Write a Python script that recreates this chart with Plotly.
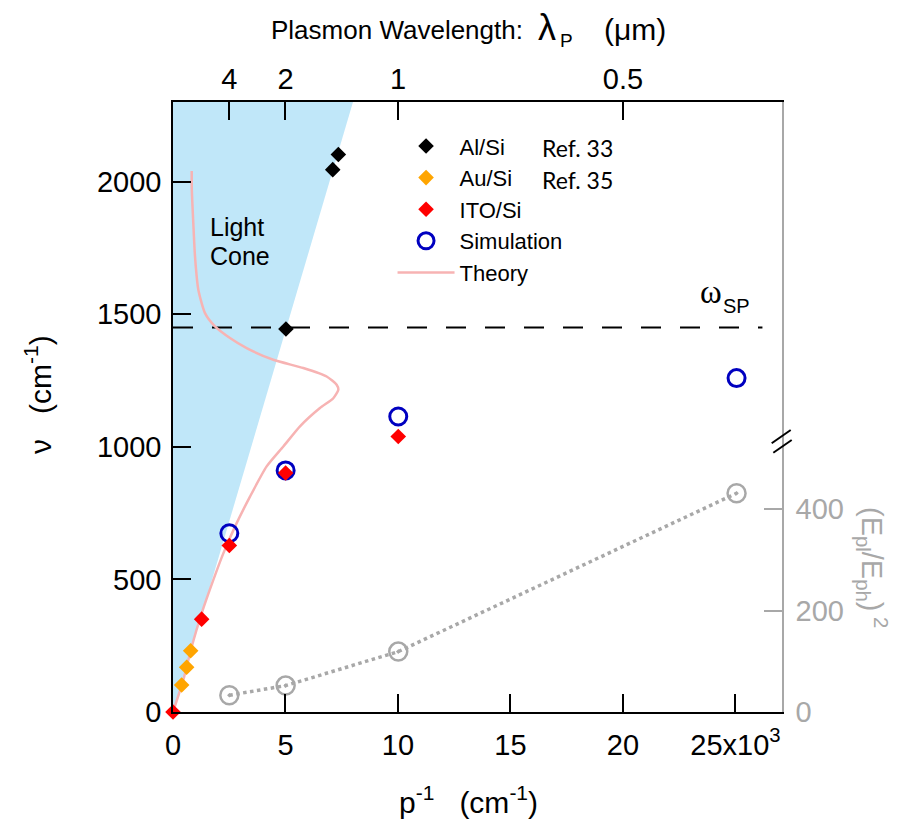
import plotly.graph_objects as go

# ---------------- data ----------------
pinv_al = [5020, 7100, 7350]
nu_al = [1444, 2045, 2102]

pinv_au = [385, 607, 785]
nu_au = [102, 169, 231]

pinv_ito = [0, 1274, 2504, 5007, 10013]
nu_ito = [0, 350, 628, 901, 1039]

pinv_sim = [2504, 5007, 10013, 25050]
nu_sim = [674, 911, 1114, 1259]

pinv_ratio = [2504, 5007, 10013, 25050]
ratio_epl_eph_sq = [33, 52, 119, 431]

theory_pinv = [831, 836, 902, 978, 1126, 1422, 1867, 2533, 3274, 4459, 5793,
               6830, 7274, 7348, 7126, 6533, 5644, 4904, 4163, 3422, 2756,
               2237, 1793, 1274, 830, 459, 0]
theory_nu = [2040, 1970, 1844, 1718, 1592, 1504, 1454, 1410, 1372, 1328, 1297,
             1265, 1234, 1215, 1183, 1146, 1077, 1001, 926, 812, 699,
             598, 498, 372, 246, 121, 0]

light_cone_pinv = [0, 8000, 0]
light_cone_nu = [0, 2300, 2300]

omega_sp_nu = 1450
omega_sp_pinv = [0, 26200]

x_range = [0, 27070]
y_range = [0, 2300]
y2_range = [0, 1202]

bottom_tickvals = [0, 5000, 10000, 15000, 20000, 25000]
bottom_ticktext = ["0", "5", "10", "15", "20", "25x10<sup>3</sup>"]
top_tickvals = [2500, 5000, 10000, 20000]
top_ticktext = ["4", "2", "1", "0.5"]
left_tickvals = [0, 500, 1000, 1500, 2000]
right_tickvals = [0, 200, 400]

FONT = "Liberation Sans, Arial, sans-serif"
GRAY = "#a8a8a8"

fig = go.Figure()

fig.add_trace(go.Scatter(x=light_cone_pinv, y=light_cone_nu, fill="toself",
                         fillcolor="#c0e7f9", mode="lines", line=dict(width=0),
                         showlegend=False, hoverinfo="skip"))
fig.add_trace(go.Scatter(x=omega_sp_pinv, y=[omega_sp_nu] * 2, mode="lines",
                         line=dict(color="black", width=2, dash="20px,19px"),
                         showlegend=False, hoverinfo="skip"))
fig.add_trace(go.Scatter(x=theory_pinv, y=theory_nu, mode="lines", name="Theory",
                         line=dict(color="#f7b3b3", width=2.5, shape="spline", smoothing=0.6),
                         legendrank=5))
fig.add_trace(go.Scatter(x=pinv_al, y=nu_al, mode="markers", name="Al/Si",
                         marker=dict(symbol="diamond", size=12, color="black"),
                         legendrank=1))
fig.add_trace(go.Scatter(x=pinv_au, y=nu_au, mode="markers", name="Au/Si",
                         marker=dict(symbol="diamond", size=12, color="#ffa500"),
                         legendrank=2))
fig.add_trace(go.Scatter(x=pinv_sim, y=nu_sim, mode="markers", name="Simulation",
                         marker=dict(symbol="circle-open", size=17, color="#0000c0",
                                     line=dict(width=3, color="#0000c0")),
                         legendrank=4))
fig.add_trace(go.Scatter(x=pinv_ito, y=nu_ito, mode="markers", name="ITO/Si",
                         marker=dict(symbol="diamond", size=12, color="#ff0000"),
                         cliponaxis=False, legendrank=3))
fig.add_trace(go.Scatter(x=pinv_ratio, y=ratio_epl_eph_sq, mode="lines+markers",
                         xaxis="x2", yaxis="y2", showlegend=False,
                         line=dict(color=GRAY, width=3.5, dash="dot"),
                         marker=dict(symbol="circle-open-dot", size=18, color=GRAY,
                                     line=dict(width=2.5, color=GRAY))))

axis_common = dict(showgrid=False, zeroline=False, ticks="inside", ticklen=18,
                   tickwidth=1.5, showline=True, linewidth=1.5,
                   tickfont=dict(family=FONT, size=29, color="black"))

fig.update_layout(
    width=898, height=827,
    margin=dict(l=173, r=116, t=102, b=115),
    paper_bgcolor="white", plot_bgcolor="white",
    font=dict(family=FONT, color="black"),
    xaxis=dict(range=x_range, tickvals=bottom_tickvals, ticktext=bottom_ticktext,
               linecolor="black", tickcolor="black", ticklabelstandoff=6,
               **axis_common),
    yaxis=dict(range=y_range, tickvals=left_tickvals, linecolor="black",
               tickcolor="black", ticklabelstandoff=4, **axis_common),
    xaxis2=dict(range=x_range, tickvals=top_tickvals, ticktext=top_ticktext,
                overlaying="x", side="top", anchor="y2", linecolor="black",
                tickcolor="black", ticklabelstandoff=0, **axis_common),
    yaxis2=dict(range=y2_range, tickvals=right_tickvals, overlaying="y", side="right",
                anchor="x2", linecolor=GRAY, tickcolor=GRAY, ticklabelstandoff=6,
                showgrid=False, zeroline=False, ticks="inside", ticklen=18,
                tickwidth=1.5, showline=True, linewidth=1.5,
                tickfont=dict(family=FONT, size=29, color=GRAY)),
    showlegend=True,
    legend=dict(x=0.3605, y=0.962, xanchor="left", yanchor="top", itemwidth=57,
                bgcolor="rgba(0,0,0,0)", font=dict(family=FONT, size=22, color="black"),
                itemsizing="trace", tracegroupgap=0),
)

def px_x(p):
    return (p - 173) / 609

def px_y(p):
    return (712 - p) / 610

annotations = [
    dict(text="Plasmon Wavelength:", x=px_x(397), y=px_y(30), xanchor="center",
         yanchor="middle", font=dict(size=26)),
    dict(text="λ", x=px_x(547), y=px_y(28), xanchor="center", yanchor="middle",
         font=dict(size=36)),
    dict(text="P", x=px_x(566), y=px_y(41), xanchor="center", yanchor="middle",
         font=dict(size=19)),
    dict(text="(μm)", x=px_x(635), y=px_y(30), xanchor="center", yanchor="middle",
         font=dict(size=30)),
    dict(text="p<sup>-1</sup>\u00a0\u00a0 (cm<sup>-1</sup>)", x=px_x(468), y=px_y(800),
         xanchor="center", yanchor="middle", font=dict(size=30)),
    dict(text="ν\u00a0\u00a0 (cm<sup>-1</sup>)", x=px_x(38), y=px_y(395),
         xanchor="center", yanchor="middle", textangle=-90, font=dict(size=30)),
    dict(text="(E<sub>pl</sub>/E<sub>ph</sub>)<sup> 2</sup>", x=px_x(872), y=px_y(567),
         xanchor="center", yanchor="middle", textangle=90,
         font=dict(size=29, color=GRAY)),
    dict(text="Light", x=px_x(208), y=px_y(227), xanchor="left", yanchor="middle",
         font=dict(size=25)),
    dict(text="Cone", x=px_x(208), y=px_y(256), xanchor="left", yanchor="middle",
         font=dict(size=25)),
    dict(text="ω", x=px_x(711), y=px_y(292), xanchor="center", yanchor="middle",
         font=dict(size=33, family="Liberation Serif, serif")),
    dict(text="SP", x=px_x(736), y=px_y(306), xanchor="center", yanchor="middle",
         font=dict(size=20)),
    dict(text="Ref. 33", x=px_x(540), y=px_y(148), xanchor="left", yanchor="middle",
         font=dict(family="Lato, sans-serif", size=23)),
    dict(text="Ref. 35", x=px_x(540), y=px_y(180), xanchor="left", yanchor="middle",
         font=dict(family="Lato, sans-serif", size=23)),
]
for a in annotations:
    a["showarrow"] = False
    a["xref"] = "paper"
    a["yref"] = "paper"
fig.update_layout(annotations=annotations)

# axis-break marks on the right spine
for (x0, y0, x1, y1) in [(771.7, 443.3, 790.7, 430.0), (773.3, 452.7, 791.7, 440.0)]:
    fig.add_shape(type="line", xref="paper", yref="paper",
                  x0=px_x(x0), x1=px_x(x1), y0=px_y(y0), y1=px_y(y1),
                  line=dict(color="black", width=2))

fig.write_html("out.html", config={"displayModeBar": False},
               post_script="document.body.style.margin='0';")
